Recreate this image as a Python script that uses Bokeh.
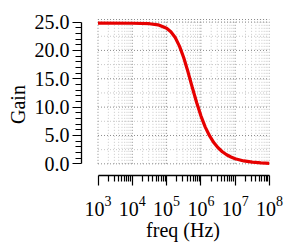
from bokeh.plotting import figure
from bokeh.models import FixedTicker, Range1d, PrintfTickFormatter, ColumnDataSource
from bokeh.embed import file_html
from bokeh.resources import INLINE

# ---- data ----
freq_hz = [1e3, 1e4, 3.16e4, 5.62e4, 1e5, 1.33e5, 1.78e5, 2.37e5, 3.16e5, 4.22e5,
           5.62e5, 7.5e5, 1e6, 1.33e6, 1.78e6, 2.37e6, 3.16e6, 4.22e6, 5.62e6,
           7.5e6, 1e7, 1.78e7, 3.16e7, 5.62e7, 1e8]
gain = [24.8, 24.79, 24.71, 24.51, 23.91, 23.28, 22.27, 20.76, 18.70, 16.18,
        13.45, 10.81, 8.46, 6.52, 4.96, 3.75, 2.83, 2.13, 1.60, 1.20,
        0.90, 0.51, 0.29, 0.16, 0.09]

x_major_ticks = [1e3, 1e4, 1e5, 1e6, 1e7, 1e8]
x_minor_ticks = [m * d for d in [1e3, 1e4, 1e5, 1e6, 1e7] for m in range(2, 10)]
y_major_ticks = [0, 5, 10, 15, 20, 25]
y_minor_ticks = [v for v in range(0, 26) if v % 5 != 0]
y_grid_major = [0, 5, 10, 15, 20, 25]
y_grid_minor = [2.5, 7.5, 12.5, 17.5, 22.5]

X_START, X_END = 330, 1e8
Y_START, Y_END = -2.06, 25.63
GRID_TOP = 25.45

FONT = "Liberation Serif"

p = figure(width=292, height=249, x_axis_type="log",
           x_range=Range1d(X_START, X_END), y_range=Range1d(Y_START, Y_END),
           output_backend="svg", toolbar_location=None,
           min_border_left=81, min_border_right=23, min_border_top=18,
           min_border_bottom=74)
p.grid.visible = False
p.outline_line_color = None
p.background_fill_color = "white"
p.border_fill_color = "white"

# grid (dotted), drawn from tick lists
gx0 = x_major_ticks[0]
gx1 = x_major_ticks[-1]
p.segment(x0=x_minor_ticks, y0=[0] * len(x_minor_ticks), x1=x_minor_ticks,
          y1=[GRID_TOP] * len(x_minor_ticks), line_color="#c8c8c8",
          line_width=1, line_dash="1 2")
p.segment(x0=[gx0] * len(y_grid_minor), y0=y_grid_minor, x1=[gx1] * len(y_grid_minor),
          y1=y_grid_minor, line_color="#c8c8c8", line_width=1, line_dash="1 2")
p.segment(x0=x_major_ticks, y0=[0] * len(x_major_ticks), x1=x_major_ticks,
          y1=[GRID_TOP] * len(x_major_ticks), line_color="#8c8c8c",
          line_width=1, line_dash="1 2")
hy = y_grid_major + [GRID_TOP]
p.segment(x0=[gx0] * len(hy), y0=hy, x1=[gx1] * len(hy), y1=hy,
          line_color="#8c8c8c", line_width=1, line_dash="1 2")

src = ColumnDataSource(dict(f=freq_hz, g=gain))
p.line("f", "g", source=src, line_color="#e60000", line_width=3.2)

# axes
xa = p.xaxis[0]
xa.ticker = FixedTicker(ticks=x_major_ticks, minor_ticks=x_minor_ticks)
xa.bounds = (x_major_ticks[0], x_major_ticks[-1])
xa.axis_label = "\u2002\u00a0freq (Hz)"
xa.axis_label_text_font = FONT
xa.axis_label_text_font_style = "normal"
xa.axis_label_text_font_size = "20px"
xa.axis_label_text_color = "black"
xa.axis_label_standoff = 0
xa.major_label_text_font = FONT
xa.major_label_text_font_size = "20px"
xa.major_label_text_color = "black"
xa.major_label_standoff = 10

ya = p.yaxis[0]
ya.ticker = FixedTicker(ticks=y_major_ticks, minor_ticks=y_minor_ticks)
ya.bounds = (y_major_ticks[0], y_major_ticks[-1])
ya.formatter = PrintfTickFormatter(format="%.1f")
ya.major_label_text_font = FONT
ya.major_label_text_font_size = "20px"
ya.major_label_text_color = "black"
ya.major_label_standoff = 3
ya.axis_label = "Gain\u2002\u00a0"
ya.axis_label_text_font = FONT
ya.axis_label_text_font_style = "normal"
ya.axis_label_text_font_size = "20px"
ya.axis_label_text_color = "black"
ya.axis_label_standoff = 3

for ax in (xa, ya):
    ax.axis_line_color = "black"
    ax.axis_line_width = 1.3
    ax.major_tick_line_color = "black"
    ax.minor_tick_line_color = "black"
    ax.major_tick_line_width = 1.2
    ax.minor_tick_line_width = 1.2
    ax.major_tick_in = 0
    ax.minor_tick_in = 0
xa.major_tick_out = 10
xa.minor_tick_out = 6
ya.major_tick_out = 9
ya.minor_tick_out = 6

open("out.html", "w").write(file_html(p, INLINE))
